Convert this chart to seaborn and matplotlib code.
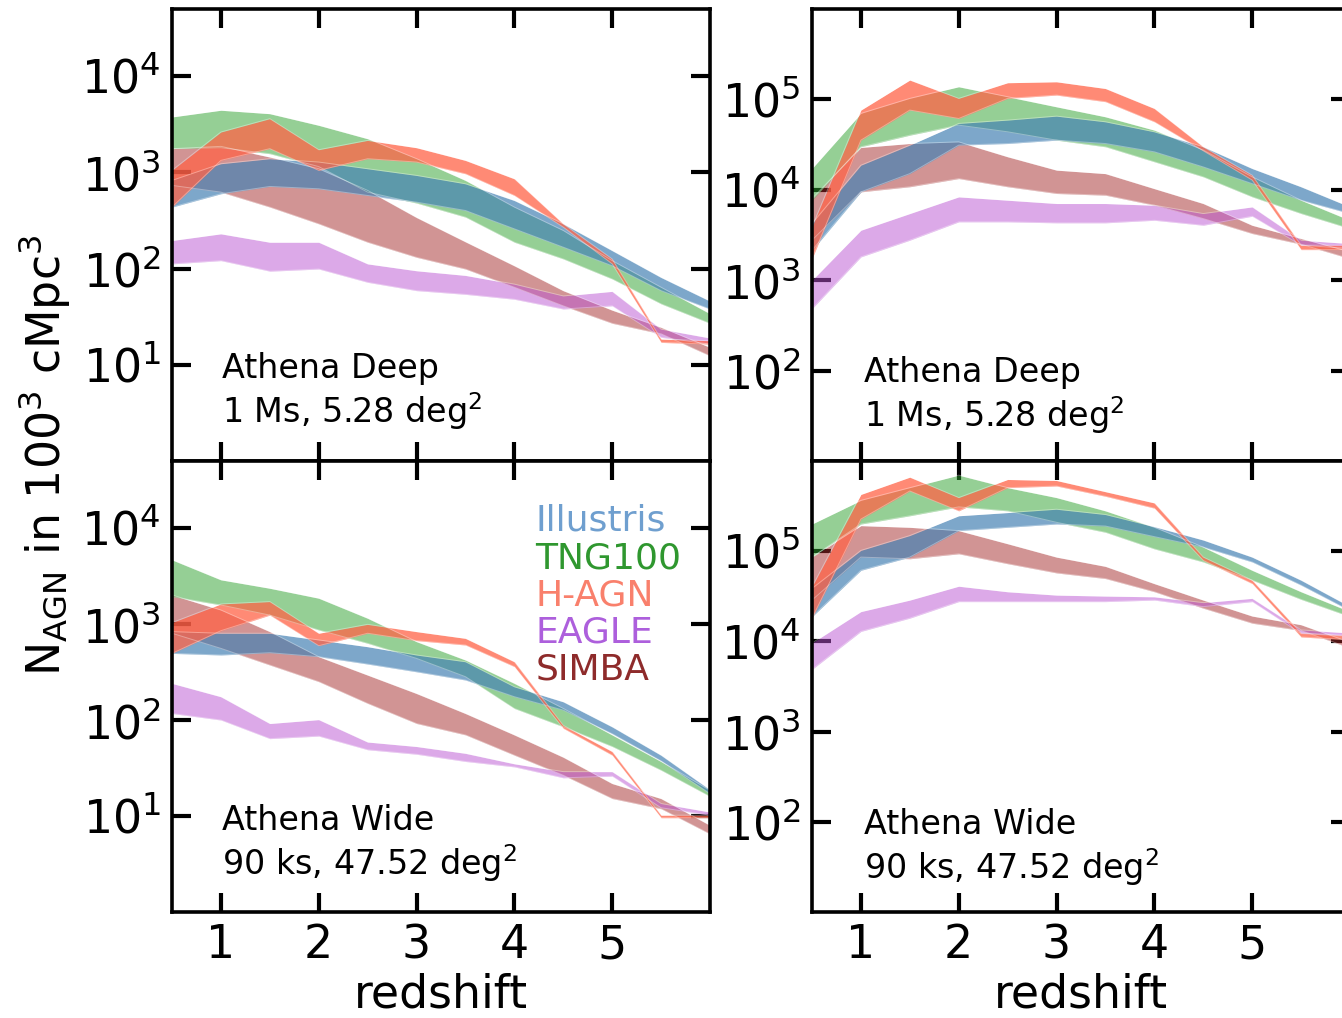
import matplotlib
matplotlib.use('Agg')
import matplotlib.pyplot as plt
from matplotlib.lines import Line2D
from matplotlib.ticker import NullLocator
import seaborn as sns

sns.set_style("ticks")
plt.rcParams['font.family'] = ['DejaVu Sans']
plt.rcParams['mathtext.fontset'] = 'dejavusans'
plt.rcParams['text.color'] = 'black'
plt.rcParams['axes.labelcolor'] = 'black'
plt.rcParams['xtick.color'] = 'black'
plt.rcParams['ytick.color'] = 'black'

# redshift grid of all bands
redshift = [0.5, 1.0, 1.5, 2.0, 2.5, 3.0, 3.5, 4.0, 4.5, 5.0, 5.5, 6.0]

sims = ['Illustris', 'TNG100', 'H-AGN', 'EAGLE', 'SIMBA']

# ---- left column, Athena Deep (lower / upper edge of each band) ----
ld_ill_lo = [436, 600, 715, 676, 576, 491, 402, 259, 167, 107, 59, 38]
ld_ill_hi = [826, 1231, 1388, 1282, 1092, 931, 762, 511, 292, 154, 81, 46]
ld_tng_lo = [1766, 1807, 1565, 1150, 624, 480, 343, 188, 126, 78, 43, 27]
ld_tng_hi = [3770, 4430, 4080, 3090, 2240, 1390, 826, 436, 249, 121, 64, 34]
ld_hagn_lo = [436, 1334, 1766, 1050, 1388, 1282, 968, 576, 270, 112, 17.1, 16.4]
ld_hagn_hi = [1050, 2630, 3620, 1722, 2153, 1807, 1334, 859, 292, 126, 18.5, 17.8]
ld_eagle_lo = [112, 121, 94, 99, 72, 59, 54, 48, 38, 41, 19.3, 16.4]
ld_eagle_hi = [196, 230, 188, 188, 112, 95, 85, 69, 52, 58, 23.5, 19]
ld_simba_lo = [733, 624, 436, 292, 188, 131, 99, 64, 41, 27, 21, 12.4]
ld_simba_hi = [1766, 1866, 1445, 1092, 650, 340, 190, 107, 59, 37, 24.5, 15.2]

# ---- right column, Athena Deep ----
rd_ill_lo = [2140, 9490, 15100, 31200, 32500, 35400, 32500, 26300, 17900, 11700, 7670, 5460]
rd_ill_hi = [4230, 18700, 31200, 54200, 59000, 65300, 56500, 43800, 29900, 17200, 10800, 6470]
rd_tng_lo = [7670, 29900, 40200, 51900, 43800, 35400, 29900, 20400, 13900, 8350, 5460, 3720]
rd_tng_hi = [17200, 70000, 102600, 138000, 107000, 82800, 64200, 45700, 27500, 13900, 7670, 4600]
rd_hagn_lo = [1730, 35400, 76200, 61500, 102600, 111600, 94300, 56500, 27000, 12800, 2180, 2180]
rd_hagn_hi = [3890, 76200, 163700, 102600, 152900, 156600, 132000, 79400, 29900, 14500, 2440, 2440]
rd_eagle_lo = [484, 1810, 2770, 4420, 4420, 4310, 4310, 4600, 4050, 5100, 2440, 2240]
rd_eagle_hi = [998, 3570, 5460, 8350, 7670, 7050, 7050, 6750, 5460, 6470, 2770, 2540]
rd_simba_lo = [2770, 9490, 10800, 13300, 10800, 9100, 8710, 6750, 4800, 3280, 2500, 1730]
rd_simba_hi = [8000, 29400, 32500, 33900, 23200, 16500, 15100, 10300, 7050, 4050, 2890, 2060]

# ---- left column, Athena Wide ----
lw_ill_lo = [495, 476, 503, 457, 383, 318, 261, 175, 127, 72, 37.5, 17.1]
lw_ill_hi = [834, 802, 802, 683, 581, 476, 405, 222, 155, 85, 43, 18.8]
lw_tng_lo = [1930, 1580, 1240, 868, 630, 439, 283, 132, 85, 53, 30, 16]
lw_tng_hi = [4670, 2890, 2360, 1860, 1150, 656, 422, 241, 132, 70, 37, 18.5]
lw_hagn_lo = [495, 853, 1240, 595, 802, 672, 605, 360, 82, 43, 9.6, 9.6]
lw_hagn_hi = [1035, 1620, 1715, 802, 993, 834, 710, 405, 88, 47, 10.2, 10.2]
lw_eagle_lo = [117, 100, 64, 68, 49, 44, 37, 32.5, 25, 26, 12.2, 10.2]
lw_eagle_hi = [241, 175, 92, 101, 59, 53, 45, 35, 29, 29, 13.5, 11]
lw_simba_lo = [802, 558, 374, 251, 149, 92, 70, 43, 26.6, 15.2, 11.9, 6.5]
lw_simba_hi = [2010, 1400, 834, 457, 294, 189, 117, 70, 41, 21.8, 15.2, 8]

# ---- right column, Athena Wide ----
rw_ill_lo = [18800, 61400, 86000, 169000, 184000, 200000, 190000, 145000, 111000, 75900, 42000, 21900]
rw_ill_hi = [38600, 102000, 149000, 247000, 268000, 292000, 255000, 187000, 133000, 86000, 47700, 24300]
rw_tng_lo = [86000, 200000, 247000, 310000, 280000, 209000, 162000, 106000, 75900, 47700, 29200, 18800]
rw_tng_hi = [200000, 366000, 506000, 697000, 506000, 393000, 280000, 184000, 111000, 61400, 35500, 21400]
rw_hagn_lo = [18100, 227000, 465000, 280000, 506000, 528000, 406000, 300000, 79000, 43700, 11200, 10400]
rw_hagn_hi = [40200, 426000, 662000, 393000, 624000, 608000, 457000, 343000, 86000, 47700, 12400, 11600]
rw_eagle_lo = [4890, 12900, 18100, 27600, 27600, 27600, 27600, 28700, 24300, 27600, 12200, 11400]
rw_eagle_hi = [9600, 21400, 28700, 40900, 35500, 32600, 31800, 31200, 26900, 30000, 13400, 12400]
rw_simba_lo = [28700, 86000, 82400, 93500, 72600, 57400, 49700, 35500, 23300, 15900, 13200, 8450]
rw_simba_hi = [86000, 192000, 184000, 169000, 121000, 86000, 67900, 43700, 28700, 19100, 15300, 9760]

# Plotting parameters
fill_colors = {'Illustris': 'steelblue', 'TNG100': '#2ca02c', 'H-AGN': 'tomato',
               'EAGLE': 'mediumorchid', 'SIMBA': 'brown'}
fill_alpha = {'Illustris': 0.7, 'TNG100': 0.5, 'H-AGN': 0.75, 'EAGLE': 0.5, 'SIMBA': 0.5}
text_colors = ['#6f9fcf', '#2f972f', '#f9806c', '#ad5fdc', '#8e2b2b']
draw_order = ['SIMBA', 'EAGLE', 'TNG100', 'Illustris', 'H-AGN']

tick_font_size = 33
label_font_size = 33
note_font_size = 24
legend_font_size = 26

panels = [
    dict(pos=[172/1342, 0.54715, 538/1342, 0.44401], ylim=(1, 5e4), yticks=[1e1, 1e2, 1e3, 1e4],
         note='Athena Deep\n1 Ms, 5.28 deg$^2$', note_xy=(0.093, 0.064), bottom=False,
         bands={'Illustris': (ld_ill_lo, ld_ill_hi), 'TNG100': (ld_tng_lo, ld_tng_hi),
                'H-AGN': (ld_hagn_lo, ld_hagn_hi), 'EAGLE': (ld_eagle_lo, ld_eagle_hi),
                'SIMBA': (ld_simba_lo, ld_simba_hi)}),
    dict(pos=[812/1342, 0.54715, 538/1342, 0.44401], ylim=(10, 1e6), yticks=[1e2, 1e3, 1e4, 1e5],
         note='Athena Deep\n1 Ms, 5.28 deg$^2$', note_xy=(0.097, 0.056), bottom=False,
         bands={'Illustris': (rd_ill_lo, rd_ill_hi), 'TNG100': (rd_tng_lo, rd_tng_hi),
                'H-AGN': (rd_hagn_lo, rd_hagn_hi), 'EAGLE': (rd_eagle_lo, rd_eagle_hi),
                'SIMBA': (rd_simba_lo, rd_simba_hi)}),
    dict(pos=[172/1342, 0.10413, 538/1342, 0.44302], ylim=(1, 5e4), yticks=[1e1, 1e2, 1e3, 1e4],
         note='Athena Wide\n90 ks, 47.52 deg$^2$', note_xy=(0.093, 0.062), bottom=True,
         bands={'Illustris': (lw_ill_lo, lw_ill_hi), 'TNG100': (lw_tng_lo, lw_tng_hi),
                'H-AGN': (lw_hagn_lo, lw_hagn_hi), 'EAGLE': (lw_eagle_lo, lw_eagle_hi),
                'SIMBA': (lw_simba_lo, lw_simba_hi)}),
    dict(pos=[812/1342, 0.10413, 538/1342, 0.44302], ylim=(10, 1e6), yticks=[1e2, 1e3, 1e4, 1e5],
         note='Athena Wide\n90 ks, 47.52 deg$^2$', note_xy=(0.097, 0.054), bottom=True,
         bands={'Illustris': (rw_ill_lo, rw_ill_hi), 'TNG100': (rw_tng_lo, rw_tng_hi),
                'H-AGN': (rw_hagn_lo, rw_hagn_hi), 'EAGLE': (rw_eagle_lo, rw_eagle_hi),
                'SIMBA': (rw_simba_lo, rw_simba_hi)}),
]

fig = plt.figure(figsize=(13.42, 10.18), dpi=100)

axes = []
for p in panels:
    ax = fig.add_axes(p['pos'])
    ax.set_yscale('log')
    for sim in draw_order:
        lo, hi = p['bands'][sim]
        ax.fill_between(redshift, lo, hi, color=fill_colors[sim], alpha=fill_alpha[sim], lw=0)
        # thin light edges of the band
        for edge in (lo, hi):
            sns.lineplot(x=redshift, y=edge, ax=ax, color='white', linewidth=0.7, alpha=0.35)

    ax.set_xlim(0.5, 6)
    ax.set_ylim(*p['ylim'])
    ax.set_xticks([1, 2, 3, 4, 5])
    ax.set_yticks(p['yticks'])
    ax.yaxis.set_minor_locator(NullLocator())
    ax.xaxis.set_minor_locator(NullLocator())
    ax.set_axisbelow(True)
    ax.tick_params(direction='in', top=True, right=True, length=14, width=3,
                   labelsize=tick_font_size, pad=8, labelbottom=p['bottom'])
    for sp in ax.spines.values():
        sp.set_linewidth(2.6)
        sp.set_color('black')
    ax.set_xlabel('redshift' if p['bottom'] else '', fontsize=label_font_size, labelpad=3)
    ax.set_ylabel('')
    ax.text(p['note_xy'][0], p['note_xy'][1], p['note'], transform=ax.transAxes,
            fontsize=note_font_size, ha='left', va='bottom', linespacing=1.15)
    axes.append(ax)

# coloured text legend in the lower left panel
handles = [Line2D([], [], lw=0) for s in sims]
leg = axes[2].legend(handles, sims, loc='upper left', bbox_to_anchor=(0.675, 0.905),
                     frameon=False, handlelength=0, handletextpad=0, borderpad=0,
                     borderaxespad=0, labelspacing=0.09, fontsize=legend_font_size)
for txt, c in zip(leg.get_texts(), text_colors):
    txt.set_color(c)

fig.text(0.033, 0.553, r'N$_{\rm AGN}$ in 100$^3$ cMpc$^3$', rotation=90,
         ha='center', va='center', fontsize=label_font_size)

fig.savefig('out.png', dpi=100)
